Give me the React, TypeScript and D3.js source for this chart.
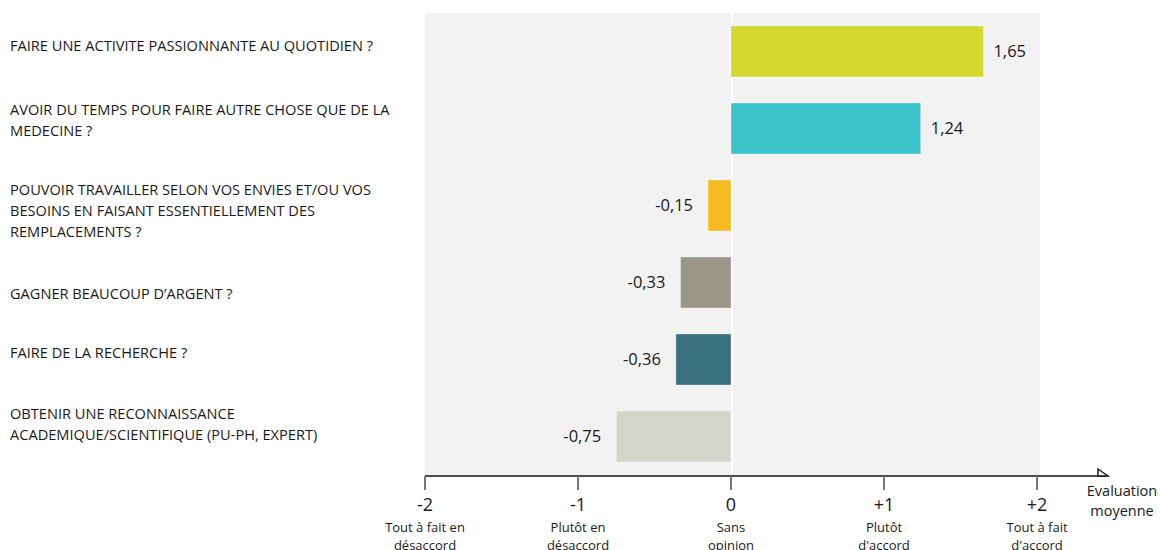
import React from "react";
import * as d3 from "d3";

const categories: string[][] = [
  ["FAIRE UNE ACTIVITE PASSIONNANTE AU QUOTIDIEN ?"],
  ["AVOIR DU TEMPS POUR FAIRE AUTRE CHOSE QUE DE LA", "MEDECINE ?"],
  ["POUVOIR TRAVAILLER SELON VOS ENVIES ET/OU VOS", "BESOINS EN FAISANT ESSENTIELLEMENT DES", "REMPLACEMENTS ?"],
  ["GAGNER BEAUCOUP D\u2019ARGENT ?"],
  ["FAIRE DE LA RECHERCHE ?"],
  ["OBTENIR UNE RECONNAISSANCE", "ACADEMIQUE/SCIENTIFIQUE (PU-PH, EXPERT)"],
];
const values: number[] = [1.65, 1.24, -0.15, -0.33, -0.36, -0.75];
const colors: string[] = ["#d7d731", "#3bc4c9", "#f6bb20", "#9a978a", "#3a717f", "#d5d6cb"];
const tickValues: number[] = [-2, -1, 0, 1, 2];
const tickLabels: string[] = ["-2", "-1", "0", "+1", "+2"];
const tickSubLabels: string[][] = [
  ["Tout \u00e0 fait en", "d\u00e9saccord"],
  ["Plut\u00f4t en", "d\u00e9saccord"],
  ["Sans", "opinion"],
  ["Plut\u00f4t", "d'accord"],
  ["Tout \u00e0 fait", "d'accord"],
];
const axisTitle: string[] = ["Evaluation", "moyenne"];

// layout: vertical offset of the first label line from its bar top
const labelOffsets: number[] = [20, 7, 10, 37, 19, 3];

const W = 1161;
const H = 550;
const FONT = "'Open Sans', 'Noto Sans', sans-serif";

export default function App() {
  const x = d3.scaleLinear().domain([-2, 2]).range([425, 1037]);
  const ids = values.map((_, i) => String(i));
  const y = d3
    .scaleBand<string>()
    .domain(ids)
    .range([13, 475])
    .paddingInner(0.338)
    .paddingOuter(0.169);
  const axisY = 476;
  const fmt = (v: number) => v.toFixed(2).replace(".", ",");

  return (
    <svg
      width={W}
      height={H}
      style={{ position: "absolute", left: 0, top: 0, display: "block" }}
      fontFamily={FONT}
    >
      <rect x={0} y={0} width={W} height={H} fill="#ffffff" />
      <rect x={x(-2)} y={13} width={1040 - x(-2)} height={axisY - 13} fill="#f2f2f2" />
      <line x1={x(0) + 1} x2={x(0) + 1} y1={13} y2={axisY} stroke="#ffffff" strokeWidth={2} />

      {values.map((v, i) => {
        const by = y(String(i)) as number;
        const bw = y.bandwidth();
        const x0 = Math.min(x(0), x(v));
        const w = Math.abs(x(v) - x(0));
        const pos = v >= 0;
        return (
          <g key={i}>
            <rect x={x0} y={by} width={w} height={bw} fill={colors[i]} stroke="#ffffff" strokeOpacity={0.5} strokeWidth={0.6} />
            <text
              x={pos ? x(v) + 10 : x(v) - 15}
              y={by + bw / 2}
              dy="0.35em"
              textAnchor={pos ? "start" : "end"}
              fontSize={16.5}
              fill="#1a1a1a"
            >
              {fmt(v)}
            </text>
            <text x={10} y={by + labelOffsets[i]} fontSize={14.6} fill="#1a1a1a">
              {categories[i].map((line, j) => (
                <tspan key={j} x={10} dy={j === 0 ? "0.35em" : 21}>
                  {line}
                </tspan>
              ))}
            </text>
          </g>
        );
      })}

      {/* axis */}
      <line x1={x(-2)} x2={1106} y1={axisY} y2={axisY} stroke="#111" strokeWidth={1.6} />
      <path d={`M1098,${axisY} L1098,${axisY - 7} L1108,${axisY} Z`} fill="#ffffff" stroke="#111" strokeWidth={1.4} />
      {tickValues.map((t, i) => (
        <g key={t} transform={`translate(${x(t)},0)`}>
          <line y1={axisY} y2={axisY + 14} stroke="#777" strokeWidth={2} />
          <text y={505} dy="0.35em" textAnchor="middle" fontSize={18} fill="#1a1a1a">
            {tickLabels[i]}
          </text>
          {tickSubLabels[i].map((s, j) => (
            <text key={j} y={527 + j * 18} dy="0.35em" textAnchor="middle" fontSize={13} fill="#1a1a1a">
              {s}
            </text>
          ))}
        </g>
      ))}
      {axisTitle.map((s, j) => (
        <text key={j} x={1122} y={491 + j * 20} dy="0.35em" textAnchor="middle" fontSize={14.5} fill="#1a1a1a">
          {s}
        </text>
      ))}
    </svg>
  );
}
